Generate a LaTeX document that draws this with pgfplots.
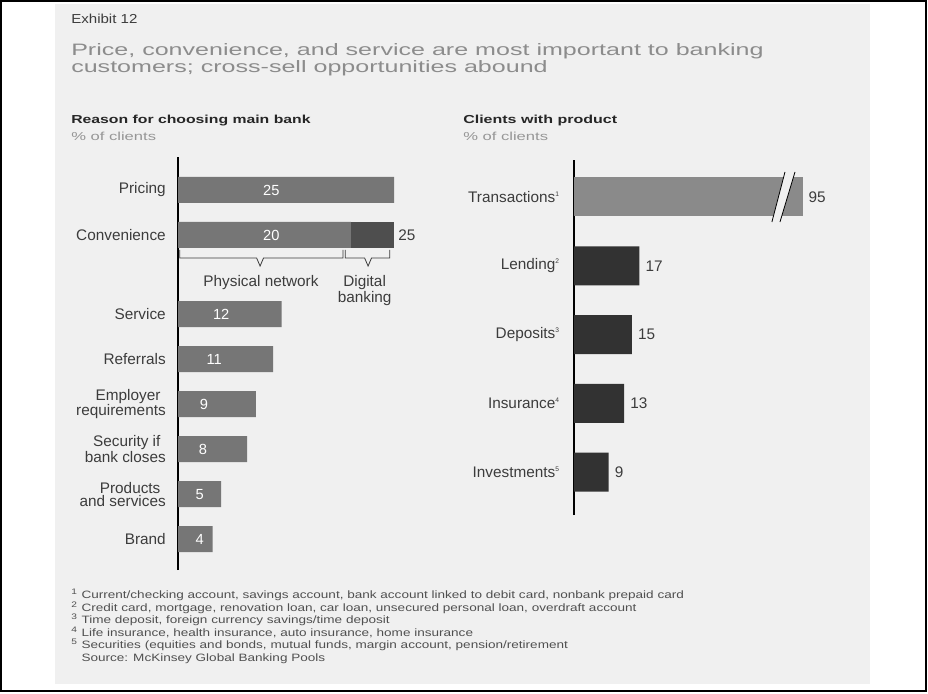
\documentclass[border=0pt]{standalone}
\usepackage{pgfplots}
\pgfplotsset{compat=1.18}
\usepackage{fontspec}
\setmainfont{Liberation Sans}
\definecolor{panel}{RGB}{240,240,240}
\definecolor{barmid}{RGB}{118,118,118}
\definecolor{bardig}{RGB}{78,78,78}
\definecolor{bartx}{RGB}{138,138,138}
\definecolor{bardark}{RGB}{50,50,50}
\definecolor{txt}{RGB}{60,60,60}
\definecolor{titlegray}{RGB}{140,140,140}
\definecolor{subgray}{RGB}{150,150,150}
\definecolor{notegray}{RGB}{80,80,80}
\begin{document}
\begin{tikzpicture}
\begin{scope}[x=0.75pt,y=-0.75pt]
\useasboundingbox (0,0) rectangle (928,693);
\fill[white] (0,0) rectangle (928,693);
\fill[panel] (55,4) rectangle (870,684);
\draw[black, line width=1.5pt] (1,1) rectangle (926,691);
\node[anchor=base west, inner sep=0pt, text=txt, font=\fontsize{9.75}{12}\selectfont] at (71,23.3) {\scalebox{1.16}[1]{Exhibit 12}};
\node[anchor=base west, inner sep=0pt, text=titlegray, font=\fontsize{12.4}{14}\selectfont] at (71,55) {\scalebox{1.516}[1]{Price, convenience, and service are most important to banking}};
\node[anchor=base west, inner sep=0pt, text=titlegray, font=\fontsize{12.4}{14}\selectfont] at (71,72.7) {\scalebox{1.516}[1]{customers; cross-sell opportunities abound}};
\node[anchor=base west, inner sep=0pt, text=black!85, font=\bfseries\fontsize{8.7}{10}\selectfont] at (71,123.3) {\scalebox{1.36}[1]{Reason for choosing main bank}};
\node[anchor=base west, inner sep=0pt, text=subgray, font=\fontsize{8.7}{10}\selectfont] at (71,140) {\scalebox{1.43}[1]{\% of clients}};
\node[anchor=base west, inner sep=0pt, text=black!85, font=\bfseries\fontsize{8.7}{10}\selectfont] at (463,123.3) {\scalebox{1.38}[1]{Clients with product}};
\node[anchor=base west, inner sep=0pt, text=subgray, font=\fontsize{8.7}{10}\selectfont] at (463,140) {\scalebox{1.43}[1]{\% of clients}};
\begin{scope}[every node/.style={anchor=base west, inner sep=0pt, text=notegray, font=\fontsize{8}{10}\selectfont}]
\node at (71,598) {\scalebox{1.27}[1]{\textsuperscript{1} Current/checking account, savings account, bank account linked to debit card, nonbank prepaid card}};
\node at (71,611) {\scalebox{1.27}[1]{\textsuperscript{2} Credit card, mortgage, renovation loan, car loan, unsecured personal loan, overdraft account}};
\node at (71,623.5) {\scalebox{1.27}[1]{\textsuperscript{3} Time deposit, foreign currency savings/time deposit}};
\node at (71,636) {\scalebox{1.27}[1]{\textsuperscript{4} Life insurance, health insurance, auto insurance, home insurance}};
\node at (71,648.5) {\scalebox{1.27}[1]{\textsuperscript{5} Securities (equities and bonds, mutual funds, margin account, pension/retirement}};
\node at (71,661) {\scalebox{1.27}[1]{\phantom{\textsuperscript{5}} Source: McKinsey Global Banking Pools}};
\end{scope}
\end{scope}

% Left chart
\begin{axis}[
 at={(133.5pt,-117.75pt)}, anchor=north west,
 scale only axis, width=194.4pt, height=309.75pt,
 xmin=0, xmax=30, ymin=-8.444, ymax=0.733,
 axis x line=none, axis y line=left,
 axis line style={-, line width=0.9pt, black},
 major tick length=0pt,
 ytick={0,-1,-2.76,-3.76,-4.76,-5.76,-6.76,-7.76},
 yticklabels={Pricing,Convenience,Service,Referrals,{Employer\hspace*{4pt}\\requirements},{Security if\hspace*{4pt}\\bank closes},{Products\hspace*{4pt}\\and services},Brand},
 yticklabel style={align=right, font=\fontsize{11.5}{10}\selectfont, text=txt, inner sep=0pt, xshift=-9pt},
 clip=false,
]
\addplot[xbar, bar width=19.5pt, bar shift=0pt, fill=bardig, draw=none,
  nodes near coords, point meta=explicit symbolic, nodes near coords align=horizontal,
  every node near coord/.append style={anchor=west, inner sep=0pt, xshift=3pt, text=txt, font=\fontsize{11.5}{13}\selectfont}]
  coordinates {(25,-1)[25]};
\addplot[xbar, bar width=19.5pt, bar shift=0pt, fill=barmid, draw=none]
  coordinates {(25,0) (20,-1) (12,-2.76) (11,-3.76) (9,-4.76) (8,-5.76) (5,-6.76) (4,-7.76)};
\addplot[only marks, mark=*, mark size=0pt, mark options={draw=none, fill=none},
  nodes near coords, point meta=explicit symbolic,
  every node near coord/.append style={anchor=center, inner sep=0pt, text=white, font=\fontsize{11}{13}\selectfont}]
  coordinates {(10.8,0)[25] (10.8,-1)[20] (5,-2.76)[12] (4.2,-3.76)[11] (3.0,-4.76)[9] (2.9,-5.76)[8] (2.5,-6.76)[5] (2.5,-7.76)[4]};
\draw[txt, line width=0.6pt] (axis cs:0.2,-1.333) -- (axis cs:0.2,-1.511) -- (axis cs:9.1,-1.511) -- (axis cs:9.5,-1.69) -- (axis cs:9.9,-1.511) -- (axis cs:19.1,-1.511) -- (axis cs:19.1,-1.333);
\draw[txt, line width=0.6pt] (axis cs:19.35,-1.333) -- (axis cs:19.35,-1.511) -- (axis cs:21.6,-1.511) -- (axis cs:22.0,-1.69) -- (axis cs:22.4,-1.511) -- (axis cs:24.5,-1.511) -- (axis cs:24.5,-1.333);
\node[anchor=north, inner sep=0pt, text=txt, font=\fontsize{11.5}{10}\selectfont] at (axis cs:9.6,-1.889) {Physical network};
\node[anchor=north, inner sep=0pt, align=center, text=txt, font=\fontsize{11.5}{10}\selectfont] at (axis cs:21.6,-1.889) {Digital\\banking};
\end{axis}

% Right chart
\begin{axis}[
 at={(430.5pt,-120pt)}, anchor=north west,
 scale only axis, width=202.125pt, height=266.25pt,
 xmin=0, xmax=70, ymin=-4.625, ymax=0.538,
 axis x line=none, axis y line=left,
 axis line style={-, line width=0.9pt, black},
 major tick length=0pt,
 ytick={0,-1,-2,-3,-4},
 yticklabels={Transactions\textsuperscript{\tiny 1},Lending\textsuperscript{\tiny 2},Deposits\textsuperscript{\tiny 3},Insurance\textsuperscript{\tiny 4},Investments\textsuperscript{\tiny 5}},
 yticklabel style={font=\fontsize{11.5}{13}\selectfont, text=txt, inner sep=0pt, xshift=-10.5pt},
 clip=false,
]
\addplot[xbar, bar width=29.25pt, bar shift=0pt, fill=bartx, draw=none,
  nodes near coords, point meta=explicit symbolic, nodes near coords align=horizontal,
  every node near coord/.append style={anchor=west, inner sep=0pt, xshift=4pt, text=txt, font=\fontsize{11.5}{13}\selectfont}]
  coordinates {(59.5,0)[95]};
\addplot[xbar, bar width=29.25pt, bar shift=0pt, fill=bardark, draw=none,
  nodes near coords, point meta=explicit symbolic, nodes near coords align=horizontal,
  every node near coord/.append style={anchor=west, inner sep=0pt, xshift=4.5pt, text=txt, font=\fontsize{11.5}{13}\selectfont}]
  coordinates {(17,-1)[17] (15,-2)[15] (13,-3)[13] (9,-4)[9]};
\fill[panel] (axis cs:51.4,-0.364) -- (axis cs:54.8,0.364) -- (axis cs:57.4,0.364) -- (axis cs:53.5,-0.364) -- cycle;
\draw[black, line width=0.6pt] (axis cs:51.4,-0.364) -- (axis cs:54.8,0.364);
\draw[black, line width=0.6pt] (axis cs:53.5,-0.364) -- (axis cs:57.4,0.364);
\end{axis}
\end{tikzpicture}
\end{document}
